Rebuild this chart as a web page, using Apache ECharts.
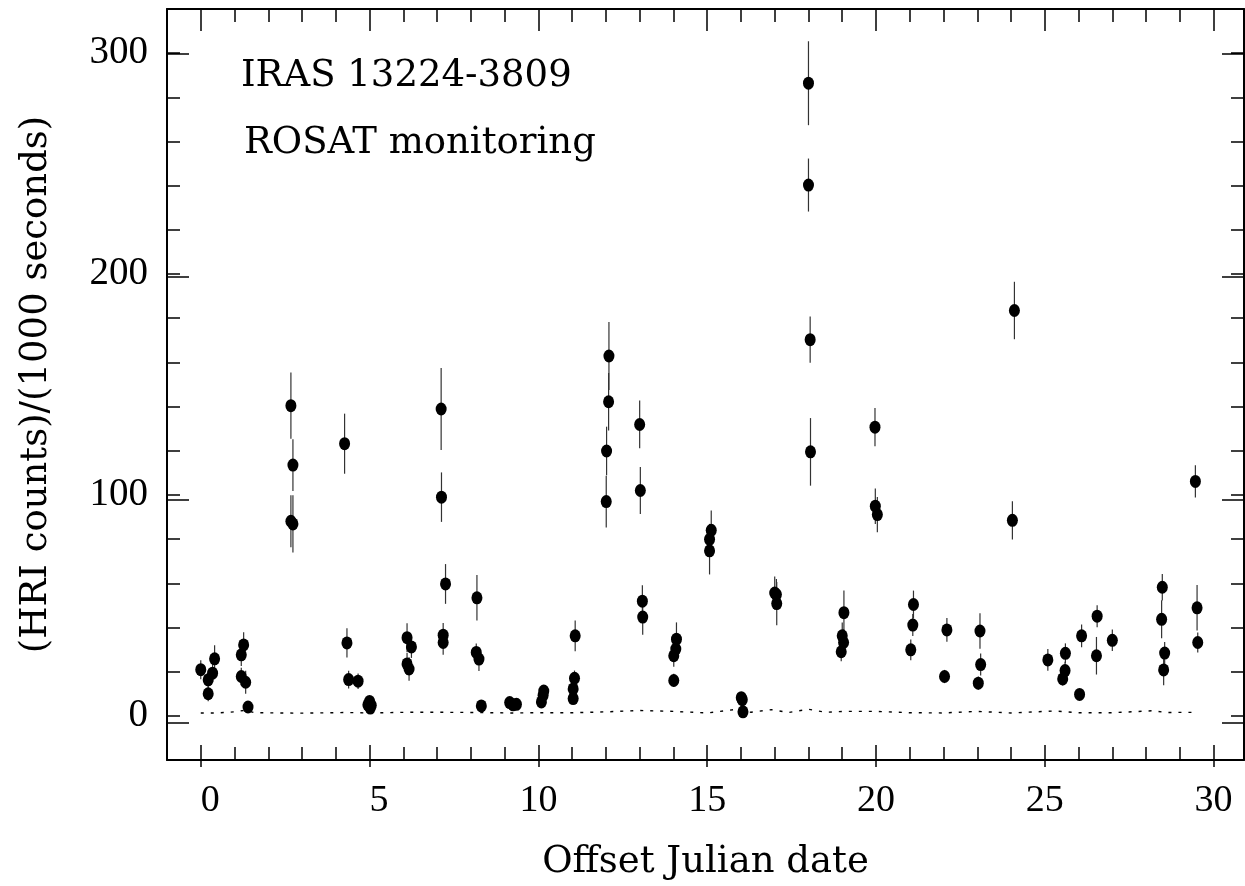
<!DOCTYPE html>
<html><head><meta charset="utf-8">
<script src="https://cdn.jsdelivr.net/npm/echarts@6/dist/echarts.min.js"></script>
<style>html,body{margin:0;padding:0;background:#fff}#c{width:1245px;height:886px}</style>
</head><body><div id="c"></div>
<script>
// Observations: offset Julian date, HRI count rate, 1-sigma error
const obsX = [0.00,0.22,0.22,0.35,0.41, 1.20,1.27,1.20,1.33,1.40, 2.67,2.73,2.67,2.73, 4.26,4.33,4.38,4.66,
  4.95,5.00,5.02,5.05, 6.11,6.24,6.11,6.17, 7.12,7.13,7.25,7.18,7.18, 8.18,8.16,8.24,8.31, 9.15,9.25,9.35,
  10.09,10.14,10.16, 11.03,11.03,11.07,11.09, 12.09,12.08,12.02,12.01, 13.00,13.02,13.08,13.09,
  14.09,14.07,14.01,14.01, 15.12,15.07,15.07, 16.01,16.04,16.06, 17.00,17.05,17.06,
  18.00,18.00,18.05,18.06, 19.05,19.00,19.04,18.97, 19.97,19.98,20.04, 21.11,21.09,21.03,
  22.10,22.03, 23.08,23.10,23.03, 24.10,24.04, 25.09,25.61,25.60,25.53,26.03,26.09,26.55,26.53,27.00,
  28.48,28.46,28.55,28.52, 29.51,29.53,29.46];
const obsY = [20.9,16.3,10.0,19.3,25.8, 27.6,32.1,17.8,15.2,4.0, 140.4,113.5,88.1,86.9, 123.2,33.0,16.4,15.7,
  5.0,6.5,3.5,4.8, 35.4,31.2,23.5,21.2, 138.9,99.0,59.7,36.5,33.2, 53.4,28.7,25.7,4.5, 6.0,5.0,5.2,
  6.3,9.3,11.2, 7.8,12.2,17.0,36.2, 162.9,142.2,119.9,97.0, 131.9,102.0,51.9,44.7,
  34.7,30.2,27.2,16.0, 84.0,79.9,74.7, 8.2,7.3,1.8, 55.6,54.9,50.8,
  286.4,240.3,170.3,119.5, 46.7,36.2,33.2,29.0, 130.7,94.9,91.1, 50.4,41.1,29.9,
  38.9,17.8, 38.4,23.2,14.8, 183.5,88.5, 25.3,28.3,20.5,16.7,9.7,36.2,45.1,27.2,34.2,
  58.2,43.7,28.4,20.8, 48.9,33.2,106.1];
const obsErr = [4.3,3.5,3.4,4.0,6.1, 5.0,5.7,4.0,5.2,2.0, 15.0,11.7,11.8,13.0, 13.6,6.6,4.0,3.5,
  2.0,2.0,2.0,2.0, 6.5,5.0,5.0,5.3, 18.6,11.2,9.0,5.5,5.5, 10.3,4.0,5.4,1.5, 2.5,2.0,2.0,
  2.5,2.0,2.5, 2.5,3.0,3.5,7.0, 15.4,13.0,11.0,11.7, 10.8,10.6,7.2,8.0,
  7.6,5.0,5.0,3.0, 9.0,7.0,10.7, 2.5,2.5,2.0, 7.5,7.0,9.8,
  19.0,12.0,10.5,15.3, 10.0,6.0,6.0,4.3, 8.7,8.0,8.0, 6.3,5.0,4.7,
  5.4,3.0, 8.0,5.0,3.0, 13.0,8.7, 4.9,4.5,4.0,3.0,2.5,5.2,5.0,8.5,4.9,
  6.0,8.6,5.0,7.0, 10.3,4.5,7.3];
// Background level (dotted curve)
const bgX = [0,0.5,1,1.3,1.6,3,4.3,5,6.1,7.2,8.2,9.2,10.1,11,12,13,14,15,15.8,16.3,16.9,17.4,18,18.5,19,20,21,22,23,24,25.3,26,27,28.2,28.6,29.5];
const bgY = [1.3,1.3,1.8,2.5,1.4,1.2,1.5,1.3,1.6,1.6,1.5,1.3,1.4,1.4,1.8,2.4,2.0,1.3,2.8,1.6,2.8,1.5,3.0,1.6,2.0,2.0,1.4,1.3,2.0,1.3,2.2,1.4,1.4,2.3,1.5,1.6];
// Ticks
const xMajor = [0,5,10,15,20,25,30];
const xMinor = [0,1,2,3,4,5,6,7,8,9,10,11,12,13,14,15,16,17,18,19,20,21,22,23,24,25,26,27,28,29,30];
const yMajor = [0,100,200,300];
const yMinor = [0,20,40,60,80,100,120,140,160,180,200,220,240,260,280,300];

const XMIN = -1, XMAX = 30.9, YMIN = -20, YMAX = 320;
const gridRect = {left:167, top:9, right:1, bottom:119};
const tickFont = 'Liberation Serif';
const textFont = 'DejaVu Serif';

function xAx(gi, pos, ticks, len, labels, withName){
  return {type:'value', gridIndex:gi, position:pos, min:XMIN, max:XMAX,
    axisLine:{show:gi===0, onZero:false, lineStyle:{color:'#000', width:2}},
    axisTick:{show:true, inside:true, length:len, customValues:ticks, lineStyle:{color:'#000', width:1.5}},
    axisLabel: labels ? {show:true, customValues:xMajor, margin:22, color:'#000', fontFamily:tickFont, fontSize:38,
      align:'right', padding:[0,-19,0,0]} : {show:false},
    splitLine:{show:false},
    name: withName ? 'Offset Julian date' : '', nameLocation:'middle', nameGap:84,
    nameTextStyle:{color:'#000', fontFamily:textFont, fontSize:37}};
}
function yAx(gi, pos, ticks, len, labels, withName){
  return {type:'value', gridIndex:gi, position:pos, min:YMIN, max:YMAX,
    axisLine:{show:gi===0, onZero:false, lineStyle:{color:'#000', width:2}},
    axisTick:{show:true, inside:true, length:len, customValues:ticks, lineStyle:{color:'#000', width:1.5}},
    axisLabel: labels ? {show:true, customValues:yMajor, margin:19, color:'#000', fontFamily:tickFont, fontSize:39} : {show:false},
    splitLine:{show:false},
    name: withName ? '(HRI counts)/(1000 seconds)' : '', nameLocation:'middle', nameGap:112, nameRotate:90,
    nameTextStyle:{color:'#000', fontFamily:textFont, fontSize:37}};
}

const chart = echarts.init(document.getElementById('c'), null, {renderer:'canvas'});
chart.setOption({
  animation:false,
  backgroundColor:'#fff',
  grid:[Object.assign({}, gridRect), Object.assign({}, gridRect)],
  xAxis:[xAx(0,'bottom',xMinor,13,true,true), xAx(0,'top',xMinor,13,false,false),
         xAx(1,'bottom',xMajor,22,false,false), xAx(1,'top',xMajor,22,false,false)],
  yAxis:[yAx(0,'left',yMinor,13,true,true), yAx(0,'right',yMinor,13,false,false),
         yAx(1,'left',yMajor,22,false,false), yAx(1,'right',yMajor,22,false,false)],
  graphic:[
    {type:'text', left:241, top:58, style:{text:'IRAS 13224-3809', font:'37px "DejaVu Serif"', fill:'#000'}},
    {type:'text', left:244, top:125, style:{text:'ROSAT monitoring', font:'37px "DejaVu Serif"', fill:'#000'}}
  ],
  series:[
    {type:'line', xAxisIndex:0, yAxisIndex:0, data:bgX.map((x,i)=>[x,bgY[i]]), showSymbol:false, symbol:'none',
      lineStyle:{color:'#000', width:1.4, type:[3,7]}, z:1, silent:true},
    {type:'custom', xAxisIndex:0, yAxisIndex:0, silent:true, z:2,
      data: obsX.map((x,i)=>[x, obsY[i]-obsErr[i], obsY[i]+obsErr[i]]),
      encode:{x:0, y:[1,2]},
      renderItem:function(params, api){
        const lo = api.coord([api.value(0), api.value(1)]);
        const hi = api.coord([api.value(0), api.value(2)]);
        return {type:'line', shape:{x1:lo[0], y1:lo[1], x2:hi[0], y2:hi[1]}, style:{stroke:'#333', lineWidth:1.2}};
      }},
    {type:'scatter', xAxisIndex:0, yAxisIndex:0, data:obsX.map((x,i)=>[x,obsY[i]]), symbol:'circle',
      symbolSize:[11,13], itemStyle:{color:'#000', opacity:1}, z:3, silent:true}
  ]
});
</script></body></html>
